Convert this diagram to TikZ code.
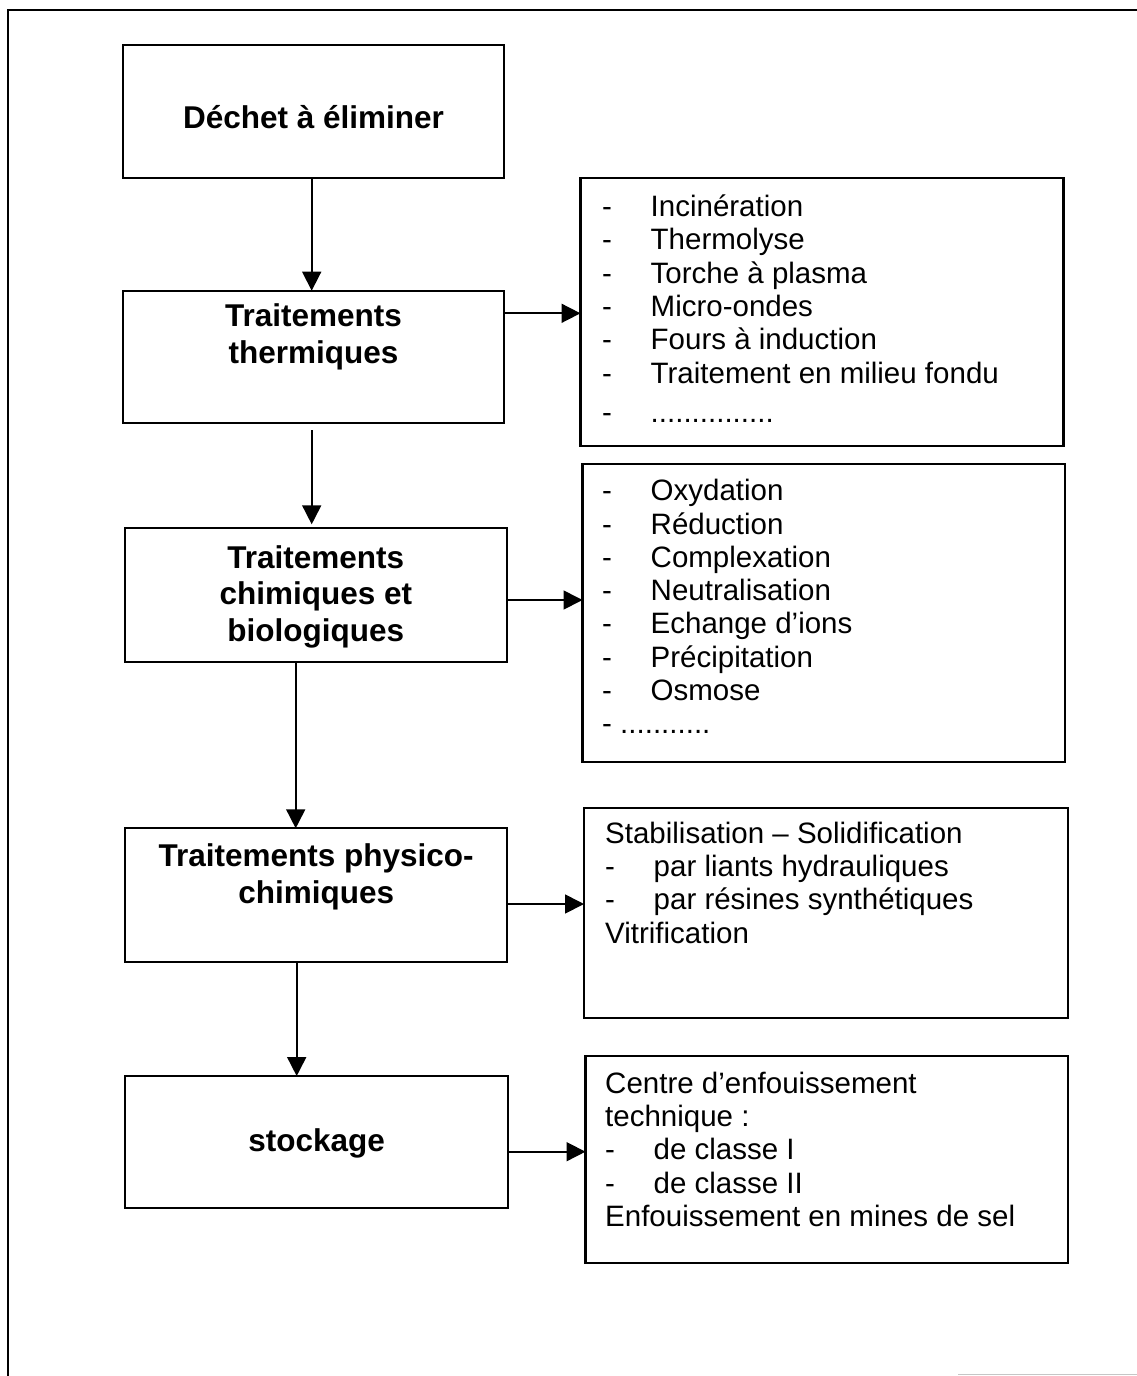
\documentclass[tikz,border=0pt]{standalone}
\usepackage{fontspec}
\setmainfont{Liberation Sans}
\usetikzlibrary{arrows.meta}
\newcommand{\rdash}[1]{\makebox[48.5pt][l]{-}#1}
\begin{document}
\begin{tikzpicture}[x=1pt,y=-1pt,
  lbox/.style={draw, rectangle, line width=2.2pt, inner sep=0pt, outer sep=0pt},
  btext/.style={inner sep=0pt, anchor=base, font=\bfseries\fontsize{31.5}{36.6}\selectfont},
  rtext/.style={inner sep=0pt, anchor=base west, font=\fontsize{29.5}{33.3}\selectfont},
  arr/.style={line width=1.7pt, -{Triangle[length=19pt,width=19pt]}},
  frame/.style={line width=2.4pt}
]
\useasboundingbox (0,0) rectangle (1137,1376);
\fill[white] (0,0) rectangle (1137,1376);

% outer frame
\draw[frame] (1137,10) -- (8,10) -- (8,1376);
\draw[gray!45, line width=1.5pt] (958,1374.5) -- (1137,1374.5);

% left column boxes
\node[lbox, minimum width=381.6pt, minimum height=133.3pt] (b1) at (313.5,111.7) {};
\node[lbox, minimum width=381.6pt, minimum height=132.6pt] (b2) at (313.5,357) {};
\node[lbox, minimum width=381.7pt, minimum height=134pt] (b3) at (315.8,595.3) {};
\node[lbox, minimum width=382.3pt, minimum height=134pt] (b4) at (316.2,895.3) {};
\node[lbox, minimum width=383.3pt, minimum height=132.3pt] (b5) at (316.7,1142.2) {};

\node[btext] (t1) at (b1.center |- 0,128.3) {Déchet à éliminer};
\node[btext] (t2) at (b2.center |- 0,326.7) {\begin{tabular}[t]{@{}c@{}}Traitements\\thermiques\end{tabular}};
\node[btext] (t3) at (b3.center |- 0,568.3) {\begin{tabular}[t]{@{}c@{}}Traitements\\chimiques et\\biologiques\end{tabular}};
\node[btext] (t4) at (b4.center |- 0,866.7) {\begin{tabular}[t]{@{}c@{}}Traitements physico-\\chimiques\end{tabular}};
\node[btext] (t5) at (b5.center |- 0,1151.7) {stockage};

% right column boxes
\node[lbox, minimum width=483pt, minimum height=268pt] (r1) at (822,312) {};
\node[lbox, minimum width=482.5pt, minimum height=298pt] (r2) at (823.75,613) {};
\node[lbox, minimum width=484pt, minimum height=210.3pt] (r3) at (826,913.15) {};
\node[lbox, minimum width=482.5pt, minimum height=207.3pt] (r4) at (826.75,1159.65) {};

\node[rtext] (r1t) at (602,216.5) {\begin{tabular}[t]{@{}l@{}}
\rdash{Incinération}\\
\rdash{Thermolyse}\\
\rdash{Torche à plasma}\\
\rdash{Micro-ondes}\\
\rdash{Fours à induction}\\
\rdash{Traitement en milieu fondu}\\[6pt]
\rdash{...............}
\end{tabular}};

\node[rtext] (r2t) at (602,500.7) {\begin{tabular}[t]{@{}l@{}}
\rdash{Oxydation}\\
\rdash{Réduction}\\
\rdash{Complexation}\\
\rdash{Neutralisation}\\
\rdash{Echange d’ions}\\
\rdash{Précipitation}\\
\rdash{Osmose}\\
- ...........
\end{tabular}};

\node[rtext] (r3t) at (605,843.3) {\begin{tabular}[t]{@{}l@{}}
Stabilisation – Solidification\\
\rdash{par liants hydrauliques}\\
\rdash{par résines synthétiques}\\
Vitrification
\end{tabular}};

\node[rtext] (r4t) at (605,1093.3) {\begin{tabular}[t]{@{}l@{}}
Centre d’enfouissement\\
technique :\\
\rdash{de classe I}\\
\rdash{de classe II}\\
Enfouissement en mines de sel
\end{tabular}};

% vertical arrows
\draw[arr] ([xshift=-1.8pt]b1.south) -- ([xshift=-1.8pt]b2.north);
\draw[arr] ([xshift=-1.8pt,yshift=-7pt]b2.south) -- ([xshift=-4.1pt,yshift=4pt]b3.north);
\draw[arr] ([xshift=-20.1pt]b3.south) -- ([xshift=-20.5pt]b4.north);
\draw[arr] ([xshift=-19.5pt]b4.south) -- ([xshift=-20pt]b5.north);

% horizontal arrows
\draw[arr] (b2.east |- 0,313.3) -- (r1.west |- 0,313.3);
\draw[arr] (b3.east |- 0,600) -- (r2.west |- 0,600);
\draw[arr] (b4.east |- 0,904) -- (r3.west |- 0,904);
\draw[arr] (b5.east |- 0,1151.7) -- (r4.west |- 0,1151.7);
\end{tikzpicture}
\end{document}
